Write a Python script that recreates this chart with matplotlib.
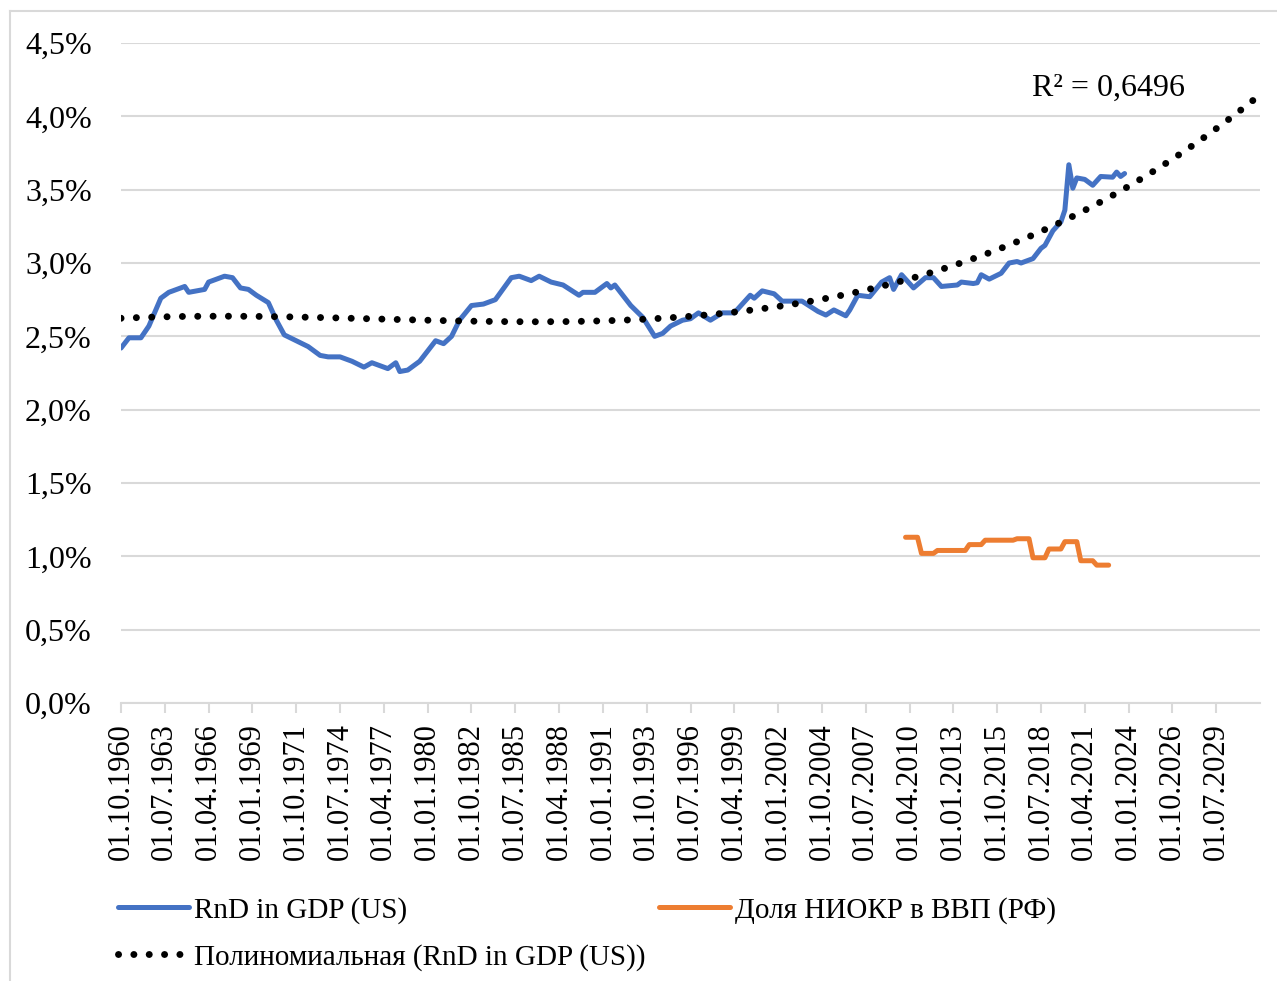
import numpy as np
import pandas as pd
import matplotlib
matplotlib.use("Agg")
import matplotlib.pyplot as plt
from matplotlib.lines import Line2D

plt.rcParams['font.family'] = ['Liberation Serif', 'DejaVu Serif']

# ---------------------------------------------------------------------------
# Data (R&D share of GDP, %), quarterly
# ---------------------------------------------------------------------------
us_quarters = [
    "1960Q4", "1961Q2", "1962Q1", "1962Q3", "1963Q2", "1963Q4", "1964Q4", "1965Q1",
    "1966Q1", "1966Q2", "1967Q2", "1967Q4", "1968Q2", "1968Q4", "1969Q2", "1970Q1",
    "1970Q3", "1971Q1", "1971Q4", "1972Q3", "1973Q2", "1973Q4", "1974Q3", "1975Q2",
    "1976Q1", "1976Q3", "1977Q3", "1978Q1", "1978Q2", "1978Q4", "1979Q3", "1980Q1",
    "1980Q3", "1981Q1", "1981Q3", "1982Q1", "1982Q4", "1983Q3", "1984Q2", "1985Q2",
    "1985Q4", "1986Q3", "1987Q1", "1987Q4", "1988Q3", "1989Q3", "1989Q4", "1990Q3",
    "1991Q2", "1991Q3", "1991Q4", "1992Q4", "1993Q3", "1994Q2", "1994Q4", "1995Q2",
    "1996Q1", "1996Q3", "1997Q1", "1997Q4", "1998Q3", "1999Q2", "2000Q2", "2000Q3",
    "2001Q1", "2001Q4", "2002Q2", "2003Q3", "2004Q3", "2005Q1", "2005Q3", "2006Q2",
    "2006Q3", "2007Q1", "2007Q4", "2008Q3", "2009Q1", "2009Q2", "2009Q4", "2010Q3",
    "2011Q2", "2011Q4", "2012Q2", "2013Q2", "2013Q3", "2014Q2", "2014Q3", "2014Q4",
    "2015Q2", "2016Q1", "2016Q3", "2017Q1", "2017Q2", "2018Q1", "2018Q3", "2018Q4",
    "2019Q2", "2019Q4", "2020Q1", "2020Q2", "2020Q3", "2020Q4", "2021Q2", "2021Q4",
    "2022Q2", "2023Q1", "2023Q2", "2023Q3", "2023Q4",
]
us_share = [
    2.42, 2.49, 2.49, 2.57, 2.76, 2.80, 2.84, 2.80,
    2.82, 2.87, 2.91, 2.90, 2.83, 2.82, 2.78, 2.73,
    2.61, 2.51, 2.47, 2.43, 2.37, 2.36, 2.36, 2.33,
    2.29, 2.32, 2.28, 2.32, 2.26, 2.27, 2.33, 2.40,
    2.47, 2.45, 2.50, 2.61, 2.71, 2.72, 2.75, 2.90,
    2.91, 2.88, 2.91, 2.87, 2.85, 2.78, 2.80, 2.80,
    2.86, 2.83, 2.85, 2.71, 2.63, 2.50, 2.52, 2.57,
    2.61, 2.62, 2.66, 2.61, 2.66, 2.66, 2.78, 2.76,
    2.81, 2.79, 2.74, 2.74, 2.67, 2.645, 2.68, 2.64,
    2.68, 2.78, 2.77, 2.87, 2.90, 2.82, 2.92, 2.83,
    2.90, 2.90, 2.84, 2.85, 2.87, 2.86, 2.865, 2.92,
    2.89, 2.93, 3.00, 3.01, 3.00, 3.03, 3.10, 3.12,
    3.22, 3.28, 3.36, 3.67, 3.51, 3.58, 3.57, 3.53,
    3.59, 3.585, 3.62, 3.59, 3.61,
]

# Russia: annual values, shown for every quarter of the year
ru_years = list(range(2010, 2023))
ru_share = [1.13, 1.02, 1.04, 1.04, 1.08, 1.11, 1.11, 1.12, 0.99, 1.05, 1.10, 0.97, 0.94]

base = pd.Period("1960Q4", freq="Q")
last_category = pd.Period("2032Q2", freq="Q")
tick_step = 11
trend_degree = 3

# ---------------------------------------------------------------------------
# Prepare x positions (category index in quarters)
# ---------------------------------------------------------------------------
us_x = np.array([(pd.Period(q, freq="Q") - base).n for q in us_quarters])
us_y = np.array(us_share)

ru_x = []
ru_y = []
for yr, v in zip(ru_years, ru_share):
    for q in range(1, 5):
        ru_x.append((pd.Period(f"{yr}Q{q}", freq="Q") - base).n)
        ru_y.append(v)

n_cat = (last_category - base).n

# polynomial trend like Excel's; weight each reading by the quarters it covers
edges = np.concatenate([[us_x[0]], (us_x[1:] + us_x[:-1]) / 2, [us_x[-1]]])
span = np.diff(edges) + 0.5
coef = np.polyfit(us_x, us_y, trend_degree, w=np.sqrt(span))
trend_x = np.linspace(0, n_cat, 400)
trend_y = np.polyval(coef, trend_x)

# ---------------------------------------------------------------------------
# Plot
# ---------------------------------------------------------------------------
fig = plt.figure(figsize=(12.77, 9.81), dpi=100)
W, H = 1277, 981
ax = fig.add_axes([121 / W, 1 - 703 / H, (1260 - 121) / W, (703 - 43) / H])

grid_c = '#d9d9d9'
ax.plot(trend_x, trend_y, color='black', lw=5, linestyle=(0, (0.01, 2.2)),
        dash_capstyle='round', zorder=4)
l_us, = ax.plot(us_x, us_y, color='#4472C4', lw=3.6, solid_joinstyle='round',
                solid_capstyle='round', zorder=3)
l_ru, = ax.plot(ru_x, ru_y, color='#ED7D31', lw=3.6, solid_joinstyle='round',
                solid_capstyle='round', zorder=3)

ax.set_xlim(0, n_cat)
ax.set_ylim(0, 4.5)
ax.set_yticks(np.arange(0, 4.51, 0.5))
ax.set_yticklabels([f"{v:.1f}%".replace('.', ',') for v in np.arange(0, 4.51, 0.5)])
ax.yaxis.grid(True, color=grid_c, lw=1.5)
ax.set_axisbelow(True)

ticks = [t for t in range(0, n_cat + 1, tick_step) if t <= 275]
labels = []
for t in ticks:
    p = base + t
    labels.append(f"01.{(p.quarter - 1) * 3 + 1:02d}.{p.year}")
ax.set_xticks(ticks)
ax.set_xticklabels(labels, rotation=90)

for s in ['top', 'right', 'left']:
    ax.spines[s].set_visible(False)
ax.spines['bottom'].set_color(grid_c)
ax.spines['bottom'].set_linewidth(1.5)
ax.tick_params(axis='x', colors=grid_c, length=7, width=1.5, labelcolor='black',
               labelsize=22, pad=7.5)
ax.tick_params(axis='y', length=0, labelsize=23, pad=21)

ax.text(0.8, 0.932, "R² = 0,6496", transform=ax.transAxes, fontsize=23,
        ha='left', va='center')

# legend: row 1 -> US, RU ; row 2 -> trend
h_trend = Line2D([], [], color='black', lw=5, linestyle=(0, (0.01, 2.2)),
                 dash_capstyle='round')
fig.legend([l_us, h_trend, l_ru],
           ["RnD in GDP (US)", "Полиномиальная (RnD in GDP (US))", "Доля НИОКР в ВВП (РФ)"],
           ncol=2, loc='upper left', bbox_to_anchor=(118 / W, 1 - 897 / H),
           frameon=False, fontsize=21, borderpad=0, borderaxespad=0,
           handlelength=2.45, handletextpad=0.17, columnspacing=0.44,
           labelspacing=0.68)

# chart area border (left and top visible)
fig.add_artist(Line2D([10 / W, 10 / W], [0, 1 - 11 / H], color=grid_c, lw=1.5))
fig.add_artist(Line2D([10 / W, 1], [1 - 11 / H, 1 - 11 / H], color=grid_c, lw=1.5))

fig.savefig('out.png', dpi=100)
